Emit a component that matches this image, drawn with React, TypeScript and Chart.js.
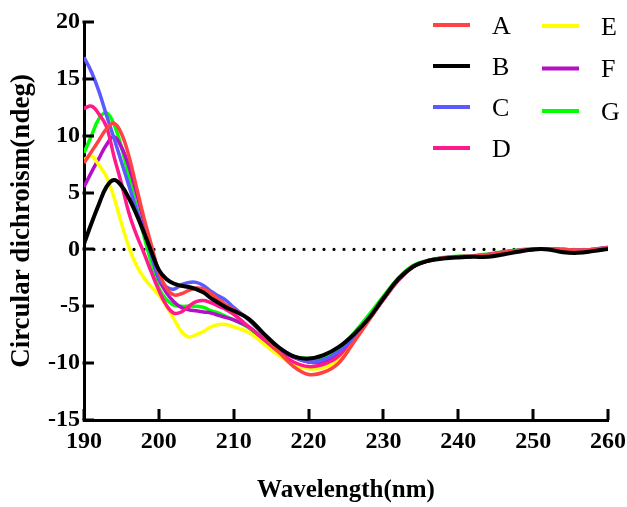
import React, { useEffect, useRef } from "react";
import { Chart, registerables } from "chart.js";

Chart.register(...registerables);

const wavelengths = [
  190, 191, 192, 193, 194, 195, 196, 197, 198, 199, 200, 201, 202, 203, 204, 205, 206, 207, 208, 209, 210,
  212, 214, 216, 218, 220, 222, 224, 226, 228, 230, 232, 234, 236, 238, 240, 242, 244, 246, 248, 250, 252, 254, 256, 258, 260,
];

const seriesA = [
  7.6, 8.6, 9.6, 10.6, 11.1, 10.2, 8.2, 5.5, 2.8, 0.4, -2.0, -3.4, -4.0, -3.9, -3.6, -3.4, -3.5, -3.9, -4.4, -4.9, -5.3,
  -6.1, -7.5, -9.0, -10.3, -11.0, -10.8, -10.0, -8.2, -6.3, -4.4, -2.7, -1.5, -1.0, -0.75, -0.65, -0.6, -0.45, -0.25, -0.1, 0.0, 0.05, 0.0, -0.05, 0.0, 0.15,
];
const seriesB = [
  0.5, 2.3, 4.0, 5.5, 6.1, 5.6, 4.5, 3.1, 1.5, -0.2, -1.8, -2.6, -3.0, -3.2, -3.3, -3.5, -3.8, -4.3, -4.7, -5.1, -5.4,
  -6.1, -7.4, -8.6, -9.4, -9.6, -9.3, -8.6, -7.5, -6.1, -4.3, -2.6, -1.5, -1.0, -0.8, -0.7, -0.65, -0.65, -0.45, -0.2, 0.0, 0.0, -0.25, -0.3, -0.15, 0.05,
];
const seriesC = [
  16.9, 15.6, 13.9, 11.8, 9.8, 7.7, 5.6, 3.5, 1.6, -0.5, -2.5, -3.3, -3.5, -3.1, -2.9, -2.9, -3.2, -3.7, -4.1, -4.5, -5.1,
  -6.2, -7.5, -8.6, -9.4, -9.9, -9.7, -9.0, -7.8, -6.2, -4.4, -2.7, -1.5, -1.0, -0.75, -0.65, -0.6, -0.45, -0.25, -0.1, 0.0, 0.05, 0.0, -0.05, 0.0, 0.15,
];
const seriesD = [
  12.4, 12.6, 11.9, 10.8, 8.2, 5.8, 3.2, 1.3, -0.3, -2.0, -3.6, -4.9, -5.6, -5.5, -5.0, -4.6, -4.5, -4.7, -5.0, -5.3, -5.7,
  -6.8, -7.9, -9.0, -9.9, -10.3, -10.1, -9.4, -7.7, -6.1, -4.4, -2.7, -1.5, -1.0, -0.75, -0.65, -0.6, -0.45, -0.25, -0.1, 0.0, 0.05, 0.0, -0.05, 0.0, 0.15,
];
const seriesE = [
  7.9, 8.2, 7.4, 6.4, 4.6, 2.3, 0.2, -1.4, -2.5, -3.3, -4.0, -5.0, -6.1, -7.2, -7.7, -7.5, -7.2, -6.8, -6.6, -6.6, -6.8,
  -7.3, -8.3, -9.3, -10.1, -10.5, -10.4, -9.7, -7.9, -6.2, -4.4, -2.7, -1.5, -1.0, -0.75, -0.65, -0.6, -0.45, -0.25, -0.1, 0.0, 0.05, 0.0, -0.05, 0.0, 0.15,
];
const seriesF = [
  5.5, 6.8, 8.0, 9.2, 9.9, 9.0, 7.3, 5.0, 2.4, -0.3, -2.6, -3.8, -4.6, -5.1, -5.3, -5.4, -5.5, -5.6, -5.8, -6.0, -6.2,
  -6.8, -7.9, -8.8, -9.5, -9.9, -9.9, -9.2, -7.8, -6.2, -4.4, -2.7, -1.5, -1.0, -0.75, -0.65, -0.6, -0.45, -0.25, -0.1, 0.0, 0.05, 0.0, -0.05, 0.0, 0.2,
];
const seriesG = [
  8.5, 10.0, 11.5, 12.0, 11.0, 9.0, 6.4, 3.8, 1.2, -1.2, -3.4, -4.4, -4.9, -5.0, -5.0, -5.0, -5.1, -5.4, -5.6, -5.9, -6.2,
  -6.9, -8.0, -8.9, -9.4, -9.6, -9.5, -8.8, -7.4, -5.8, -4.1, -2.5, -1.4, -0.95, -0.7, -0.6, -0.55, -0.4, -0.2, -0.05, 0.05, 0.05, 0.0, -0.05, 0.0, 0.15,
];

const seriesLabels = ["A", "B", "C", "D", "E", "F", "G"];
const seriesValues = [seriesA, seriesB, seriesC, seriesD, seriesE, seriesF, seriesG];
const seriesColors = ["#FF4242", "#000000", "#5A5AFF", "#FF1A8C", "#FFFF00", "#B40FC8", "#00FF00"];

const xTicks = [190, 200, 210, 220, 230, 240, 250, 260];
const yTicks = [-15, -10, -5, 0, 5, 10, 15, 20];
const zeroLineX = [190, 260];

const FONT = "'Liberation Serif', 'Times New Roman', serif";

const tickPlugin = {
  id: "inwardTicks",
  afterDraw(chart: any) {
    const { ctx, chartArea } = chart;
    const xs = chart.scales.x;
    const ys = chart.scales.y;
    ctx.save();
    ctx.strokeStyle = "#000";
    ctx.lineWidth = 3;
    ctx.lineCap = "butt";
    xTicks.forEach((v) => {
      const px = Math.round(xs.getPixelForValue(v));
      ctx.beginPath();
      ctx.moveTo(px, chartArea.bottom);
      ctx.lineTo(px, chartArea.bottom - 11);
      ctx.stroke();
    });
    yTicks.forEach((v) => {
      const py = Math.round(ys.getPixelForValue(v));
      ctx.beginPath();
      ctx.moveTo(chartArea.left - 1.5, py);
      ctx.lineTo(chartArea.left + 10, py);
      ctx.stroke();
    });
    ctx.restore();
  },
};

const legendPlugin = {
  id: "customLegend",
  afterDraw(chart: any) {
    const { ctx } = chart;
    const items = chart.data.datasets.filter((d: any) => d.label !== "zero");
    ctx.save();
    items.forEach((ds: any, i: number) => {
      const col = i < 4 ? 0 : 1;
      const row = col === 0 ? i : i - 4;
      const lx = col === 0 ? 433 : 542;
      const ly = col === 0 ? 25 + row * 41 : 26 + row * 42.5;
      ctx.strokeStyle = ds.borderColor;
      ctx.lineWidth = 4;
      ctx.lineCap = "butt";
      ctx.beginPath();
      ctx.moveTo(lx, ly);
      ctx.lineTo(lx + 37, ly);
      ctx.stroke();
      ctx.fillStyle = "#000";
      ctx.font = `26px ${FONT}`;
      ctx.textBaseline = "middle";
      ctx.textAlign = "left";
      ctx.fillText(ds.label, lx + 59, ly + 2);
    });
    ctx.restore();
  },
};

export default function App() {
  const canvasRef = useRef<HTMLCanvasElement | null>(null);

  useEffect(() => {
    if (!canvasRef.current) return;
    const order = [1, 0, 1, 1, 1, 1, 1];
    const datasets: any[] = seriesLabels.map((label, i) => ({
      label,
      data: wavelengths.map((w, j) => ({ x: w, y: seriesValues[i][j] })),
      borderColor: seriesColors[i],
      backgroundColor: seriesColors[i],
      borderWidth: i === 1 ? 4 : 3.5,
      pointRadius: 0,
      tension: 0.4,
      fill: false,
      order: order[i],
    }));
    datasets.push({
      label: "zero",
      data: zeroLineX.map((x) => ({ x, y: 0 })),
      borderColor: "#000",
      borderWidth: 3.2,
      borderDash: [0, 10],
      borderCapStyle: "round",
      pointRadius: 0,
      fill: false,
      order: 5,
    });

    const chart = new Chart(canvasRef.current, {
      type: "line",
      data: { datasets },
      plugins: [tickPlugin, legendPlugin],
      options: {
        animation: false,
        responsive: false,
        maintainAspectRatio: false,
        layout: { padding: { top: 22, right: 19, left: 0, bottom: 0 } },
        plugins: {
          legend: { display: false },
          tooltip: { enabled: false },
        },
        scales: {
          x: {
            type: "linear",
            min: 190,
            max: 260,
            afterFit(scale: any) {
              scale.height = 87;
              scale.paddingLeft = 0;
              scale.paddingRight = 0;
            },
            afterBuildTicks(scale: any) {
              scale.ticks = xTicks.map((v) => ({ value: v }));
            },
            grid: { display: false, drawTicks: false },
            border: { display: true, width: 3, color: "#000" },
            ticks: {
              color: "#000",
              padding: 7,
              maxRotation: 0,
              autoSkip: false,
              font: { family: FONT, size: 24, weight: "bold" },
            },
            title: {
              display: true,
              text: "Wavelength(nm)",
              color: "#000",
              padding: { top: 0, bottom: 1 },
              font: { family: FONT, size: 25, weight: "bold", lineHeight: 1.2 },
            },
          },
          y: {
            type: "linear",
            min: -15,
            max: 20,
            afterFit(scale: any) {
              scale.width = 84;
              scale.paddingTop = 0;
              scale.paddingBottom = 0;
            },
            afterBuildTicks(scale: any) {
              scale.ticks = yTicks.map((v) => ({ value: v }));
            },
            grid: { display: false, drawTicks: false },
            border: { display: true, width: 3, color: "#000" },
            ticks: {
              color: "#000",
              padding: 4,
              autoSkip: false,
              font: { family: FONT, size: 24, weight: "bold" },
            },
            title: {
              display: true,
              text: "Circular dichroism(ndeg)",
              color: "#000",
              padding: { top: 6, bottom: 0 },
              font: { family: FONT, size: 27, weight: "bold", lineHeight: 1.2 },
            },
          },
        },
      } as any,
    });
    return () => chart.destroy();
  }, []);

  return (
    <div style={{ position: "fixed", left: 0, top: 0, width: 627, height: 507, background: "#fff" }}>
      <canvas ref={canvasRef} width={627} height={507} style={{ display: "block", width: 627, height: 507 }} />
    </div>
  );
}
